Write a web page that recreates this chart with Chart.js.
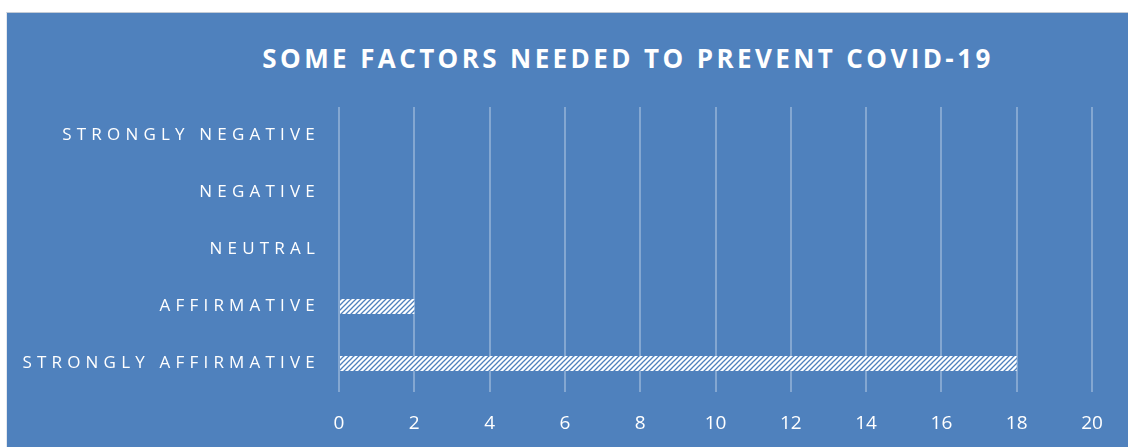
<!DOCTYPE html>
<html>
<head>
<meta charset="utf-8">
<script src="https://cdn.jsdelivr.net/npm/chart.js@4.4.1/dist/chart.umd.min.js"></script>
<style>
  html, body { margin: 0; padding: 0; background: #fff; }
  #panel {
    position: absolute; left: 6px; top: 12px; width: 1122px; height: 435px;
    background: #4F81BD; border-top: 1px solid #c3cbd6; border-left: 1px solid #e4e8ee;
    box-sizing: border-box;
  }
  #title {
    position: absolute; top: 30px; left: 0; width: 1242px; text-align: center;
    font: bold 26px 'Open Sans', sans-serif; letter-spacing: 3.4px; color: #fff; line-height: 30px;
  }
  #chart { position: absolute; left: 0; top: 0; }
</style>
</head>
<body>
<div id="panel">
  <div id="title">SOME FACTORS NEEDED TO PREVENT COVID-19</div>
  <canvas id="chart" width="1122" height="435"></canvas>
</div>
<script>
const categories = ['STRONGLY NEGATIVE', 'NEGATIVE', 'NEUTRAL', 'AFFIRMATIVE', 'STRONGLY AFFIRMATIVE'];
const responses = [0, 0, 0, 2, 18];
const xTicks = [0, 2, 4, 6, 8, 10, 12, 14, 16, 18, 20];

const BLUE = '#4F81BD';

// white bar with thin blue "/" hatching
function hatch() {
  const c = document.createElement('canvas');
  c.width = 5; c.height = 5;
  const g = c.getContext('2d');
  g.fillStyle = '#fff';
  g.fillRect(0, 0, 5, 5);
  g.strokeStyle = BLUE;
  g.lineWidth = 1.3;
  g.beginPath();
  g.moveTo(-1, 6); g.lineTo(6, -1);
  g.moveTo(-1, 1); g.lineTo(1, -1);
  g.moveTo(4, 6); g.lineTo(6, 4);
  g.stroke();
  return g.createPattern(c, 'repeat');
}

// spaced-out category labels
const spacedLabels = {
  id: 'spacedLabels',
  afterUpdate(chart) {
    const y = chart.scales.y;
    if (y._spaced) return;
    const orig = y.drawLabels;
    y.drawLabels = function (area) {
      const ctx = this.ctx;
      ctx.save();
      ctx.letterSpacing = '5.2px';
      orig.call(this, area);
      ctx.restore();
    };
    y._spaced = true;
  }
};

const canvas = document.getElementById('chart');
new Chart(canvas, {
  type: 'bar',
  data: {
    labels: categories,
    datasets: [{
      data: responses,
      backgroundColor: hatch(),
      borderWidth: 0,
      categoryPercentage: 0.5,
      barPercentage: 0.53
    }]
  },
  options: {
    indexAxis: 'y',
    responsive: false,
    animation: false,
    events: [],
    layout: { padding: { left: 0, right: 37, top: 94, bottom: 0 } },
    plugins: { legend: { display: false }, tooltip: { enabled: false } },
    scales: {
      x: {
        min: 0, max: 20,
        afterBuildTicks: s => { s.ticks = xTicks.map(v => ({ value: v })); },
        afterFit: s => { s.height = 56; },
        ticks: { color: '#fff', padding: 20, font: { family: 'Open Sans', size: 19 } },
        grid: { color: 'rgba(255,255,255,0.3)', lineWidth: 2, drawTicks: false },
        border: { display: false }
      },
      y: {
        afterFit: s => { s.width = 332; },
        ticks: { color: '#fff', padding: 19, font: { family: 'Open Sans', size: 17 } },
        grid: { display: false, drawTicks: false },
        border: { display: false }
      }
    }
  },
  plugins: [spacedLabels]
});
</script>
</body>
</html>
